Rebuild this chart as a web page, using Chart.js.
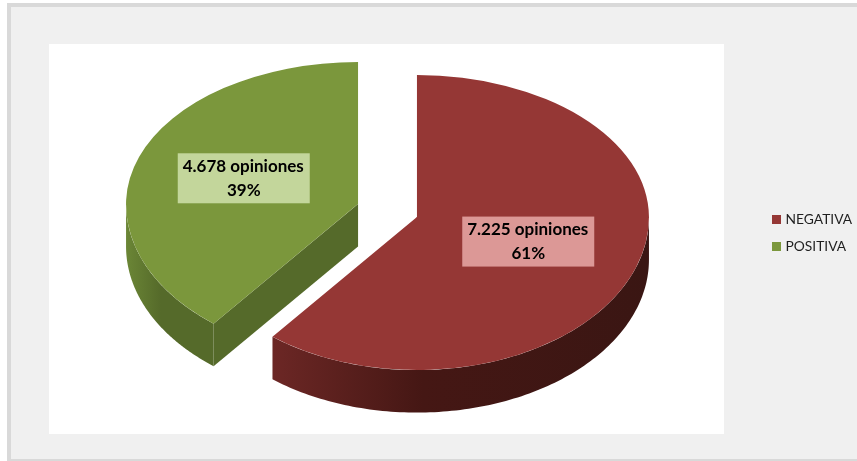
<!DOCTYPE html>
<html>
<head>
<meta charset="utf-8">
<script src="https://cdn.jsdelivr.net/npm/chart.js@4"></script>
<style>
html, body { margin: 0; padding: 0; background: #fff; overflow: hidden; }
#frame { position: absolute; left: 7px; top: 3px; width: 860px; height: 452px; background: #f0f0f0; border: 4px solid #d9d9d9; }
#plot { position: absolute; left: 49px; top: 44px; width: 675px; height: 390px; background: #fff; }
#canvas { position: absolute; left: 0; top: 0; }
</style>
</head>
<body>
<div id="frame"></div>
<div id="plot"></div>
<canvas id="canvas" width="857" height="461"></canvas>
<script>
const categories = ['NEGATIVA', 'POSITIVA']
const opinions = [7225, 4678]
const percents = [61, 39]
const opinionLabels = ['7.225 opiniones', '4.678 opiniones']
const topColors = ['#953735', '#7b973c']
const boxColors = ['#dc9896', '#c3d69b']
const sideColors = [['#6c2725', '#451714', '#3a1613'], ['#6b8636', '#556a2a', '#556a2a']]

// the 3d look: squashed ellipse, deeper below the centre than above
const radius = 232
const middle = { x: 387.5, y: 210.5 }
const squashUp = 142 / radius
const squashDown = 153 / radius
const explode = 31.2
const depth = 42.5

function apexOf(el) {
  const mid = (el.startAngle + el.endAngle) / 2
  return {
    x: middle.x + Math.cos(mid) * explode,
    y: middle.y + Math.sin(mid) * explode * 0.64,
  }
}

function rimPoint(el, apex, a) {
  const s = Math.sin(a)
  return {
    x: apex.x + Math.cos(a) * el.outerRadius,
    y: apex.y + s * el.outerRadius * (s < 0 ? squashUp : squashDown),
  }
}

function drawSide(ctx, el, apex, colors) {
  const from = Math.max(el.startAngle, 0)
  const to = Math.min(el.endAngle, Math.PI)
  if (to <= from) return
  const steps = 120
  const pts = []
  for (let i = 0; i <= steps; i++) pts.push(rimPoint(el, apex, from + (to - from) * i / steps))
  const xs = pts.map(p => p.x)
  const left = Math.min(...xs), right = Math.max(...xs)
  const grad = ctx.createLinearGradient(left, 0, right, 0)
  // left end is the light one
  grad.addColorStop(0, colors[0])
  grad.addColorStop(0.4, colors[1])
  grad.addColorStop(1, colors[2])
  ctx.fillStyle = grad
  ctx.beginPath()
  pts.forEach((p, i) => i ? ctx.lineTo(p.x, p.y) : ctx.moveTo(p.x, p.y))
  pts.slice().reverse().forEach(p => ctx.lineTo(p.x, p.y + depth))
  ctx.closePath()
  ctx.fill()
}

function drawCutFace(ctx, el, apex, color) {
  // only the cut edge turned towards us shows
  if (el.startAngle <= Math.PI / 2 || el.startAngle >= Math.PI) return
  const p = rimPoint(el, apex, el.startAngle)
  ctx.fillStyle = color
  ctx.beginPath()
  ctx.moveTo(apex.x, apex.y)
  ctx.lineTo(p.x, p.y)
  ctx.lineTo(p.x, p.y + depth)
  ctx.lineTo(apex.x, apex.y + depth)
  ctx.closePath()
  ctx.fill()
}

function drawTop(ctx, el, apex, chart) {
  const w = chart.width, h = chart.height
  ctx.save()
  ctx.beginPath()
  ctx.rect(0, 0, w, apex.y + 0.5)
  ctx.clip()
  ctx.translate(apex.x, apex.y)
  ctx.scale(1, squashUp)
  ctx.translate(-el.x, -el.y)
  el.draw(ctx)
  ctx.restore()
  ctx.save()
  ctx.beginPath()
  ctx.rect(0, apex.y, w, h - apex.y)
  ctx.clip()
  ctx.translate(apex.x, apex.y)
  ctx.scale(1, squashDown)
  ctx.translate(-el.x, -el.y)
  el.draw(ctx)
  ctx.restore()
}

function drawLabel(ctx, el, apex, i) {
  const mid = (el.startAngle + el.endAngle) / 2
  const p = rimPoint(el, apex, mid)
  const cx = apex.x + (p.x - apex.x) * 0.515 - 1.5
  const cy = apex.y + (p.y - apex.y) * 0.515 - 1.5
  ctx.fillStyle = boxColors[i]
  ctx.fillRect(cx - 66, cy - 25, 132, 50)
  ctx.fillStyle = '#000'
  ctx.font = 'bold 17px Lato'
  ctx.textAlign = 'center'
  ctx.textBaseline = 'middle'
  ctx.fillText(opinionLabels[i], cx - 0.5, cy - 12)
  ctx.fillText(percents[i] + '%', cx, cy + 12)
}

function drawLegend(ctx) {
  const rows = [219.5, 246.5]
  ctx.font = '13.8px Lato'
  ctx.textAlign = 'left'
  ctx.textBaseline = 'middle'
  categories.forEach((name, i) => {
    ctx.fillStyle = topColors[i]
    ctx.fillRect(772, rows[i] - 4.5, 9, 9)
    ctx.fillStyle = '#1f1f1f'
    ctx.fillText(name, 785.5, rows[i])
  })
}

const pie3d = {
  id: 'pie3d',
  beforeDatasetsDraw(chart) {
    const ctx = chart.ctx
    const arcs = chart.getDatasetMeta(0).data
    arcs.forEach((el, i) => {
      const apex = apexOf(el)
      drawSide(ctx, el, apex, sideColors[i])
      drawCutFace(ctx, el, apex, sideColors[i][2])
      drawTop(ctx, el, apex, chart)
    })
    arcs.forEach((el, i) => drawLabel(ctx, el, apexOf(el), i))
    drawLegend(ctx)
    return false
  },
}

const canvas = document.getElementById('canvas')
const chart = new Chart(canvas, {
  type: 'pie',
  data: {
    labels: categories,
    datasets: [{
      data: opinions,
      backgroundColor: topColors,
      borderWidth: 0,
      radius: radius,
    }],
  },
  options: {
    responsive: false,
    animation: false,
    plugins: {
      tooltip: { enabled: false },
      legend: { display: false },
    },
  },
  plugins: [pie3d],
})
</script>
</body>
</html>
